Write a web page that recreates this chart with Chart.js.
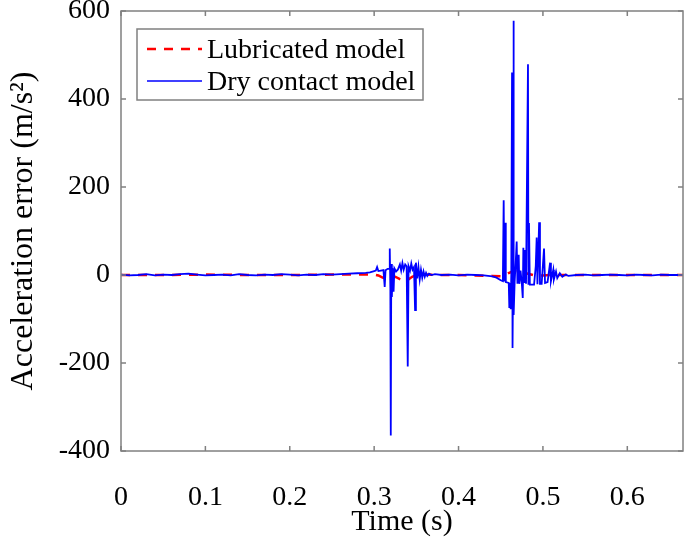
<!DOCTYPE html>
<html><head><meta charset="utf-8">
<script src="https://cdn.jsdelivr.net/npm/chart.js@4/dist/chart.umd.min.js"></script>
<style>html,body{margin:0;padding:0;background:#fff;}#wrap{width:685px;height:540px;position:relative;}</style>
</head><body><div id="wrap"><canvas id="c" width="685" height="540"></canvas></div>
<script>
// ---- data ----
const xTicks = [0, 0.1, 0.2, 0.3, 0.4, 0.5, 0.6];
const yTicks = [-400, -200, 0, 200, 400, 600];
const seriesNames = ['Lubricated model', 'Dry contact model'];
const xTitle = 'Time (s)';
const yTitle = 'Acceleration error (m/s\u00B2)';

const lubTime  = [0, 0.05, 0.1, 0.15, 0.2, 0.25, 0.28, 0.3, 0.305, 0.31, 0.315, 0.32, 0.325, 0.33, 0.335, 0.34, 0.345, 0.35, 0.36, 0.38, 0.4, 0.42, 0.44, 0.45, 0.455, 0.46, 0.465, 0.47, 0.48, 0.49, 0.5, 0.51, 0.53, 0.56, 0.6, 0.63, 0.666];
const lubAccel = [0, 0, 1, 0, 0, 1, 1, 1, -1, -6, -9, -7, -4, -9, -13, -11, -4, 0, 1, 0, 0, -1, -2, -3, 0, 5, 9, 8, 4, -1, -1, 0, 0, 0, 0, 0, 0];

const dryTime = [0, 0.01, 0.02, 0.03, 0.04, 0.05, 0.06, 0.07, 0.08, 0.09, 0.10, 0.11, 0.12, 0.13, 0.14, 0.15, 0.16, 0.17, 0.18, 0.19, 0.20, 0.21, 0.22, 0.23, 0.24, 0.25, 0.26, 0.27, 0.28,
  0.29, 0.295, 0.300, 0.302, 0.3035, 0.305, 0.308, 0.311, 0.3125, 0.3135, 0.316, 0.3178, 0.3185, 0.3192, 0.3197, 0.3203, 0.321, 0.3218, 0.323, 0.324, 0.326, 0.328,
  0.3305, 0.332, 0.3335, 0.335, 0.3368, 0.3385, 0.3398, 0.3408, 0.3425, 0.344, 0.3455, 0.3472, 0.3485, 0.3495, 0.351, 0.3525, 0.354, 0.3555, 0.357, 0.3585, 0.360,
  0.3615, 0.363, 0.365, 0.368, 0.372, 0.38, 0.39, 0.40, 0.41, 0.42, 0.43, 0.44, 0.445, 0.45, 0.4525, 0.4535, 0.4542, 0.4552, 0.456, 0.4595, 0.4602, 0.461, 0.4618,
  0.4625, 0.4634, 0.4638, 0.4642, 0.4646, 0.4649, 0.4653, 0.4657, 0.4665, 0.4678, 0.4689, 0.4698, 0.4713, 0.472, 0.4735, 0.475, 0.4761, 0.4768, 0.4778, 0.4788,
  0.480, 0.4823, 0.4828, 0.4835, 0.4845, 0.487, 0.4895, 0.4915, 0.4926, 0.4935, 0.4955, 0.4965, 0.4985, 0.5013, 0.5025, 0.5055, 0.5085, 0.5095, 0.5123, 0.513,
  0.5155, 0.517, 0.52, 0.523, 0.527, 0.53, 0.54, 0.55, 0.56, 0.57, 0.58, 0.59, 0.60, 0.61, 0.62, 0.63, 0.64, 0.65, 0.666];
const dryAccel = [1, -1, 0, 2, -1, 1, 0, 2, 3, 1, -1, 0, 1, -1, 2, 0, -1, 1, 0, 2, 1, -1, 1, 0, 2, 1, 2, 3, 4,
  5, 6, 9, 10, 18, 9, 10, 11, -27, 11, 14, 14, 60, -30, -365, 25, -50, 15, -38, 15, 8, 12,
  24, 10, 27, 12, 24, 20, -208, 20, 10, 26, 12, 18, -80, 28, -8, 18, -10, 12, -6, 8, -4,
  5, -2, 3, 0, 2, 0, 1, -1, 1, 0, -1, -3, -6, -12, -14, 170, -15, 119, -16, -18, -75, -18, -78,
  0, 460, -20, -166, -10, 578, -20, -91, -15, 30, 76, -20, 46, -20, 10, -20, -52, 62, -18, 57,
  -20, 479, -20, 118, -22, -22, -22, 20, 85, -21, 120, -20, -20, 60, -18, -16, 28, -14, 12, -10,
  8, -7, 4, -4, 1, -2, 0, 1, -1, 0, 1, 0, -1, 1, 0, -1, 1, 0, 0];

// ---- drawing ----
const FONT = '"Liberation Serif", "Times New Roman", serif';
const toPts = (t, v) => t.map((x, i) => ({x: x, y: v[i]}));

const framePlugin = {
  id: 'frameAndLegend',
  afterDatasetsDraw(chart) {
    const {ctx, chartArea: a, scales: {x, y}} = chart;
    ctx.save();
    ctx.strokeStyle = '#808080';
    ctx.lineWidth = 1.5;
    ctx.setLineDash([]);
    ctx.strokeRect(a.left, a.top, a.right - a.left, a.bottom - a.top);
    ctx.beginPath();
    xTicks.forEach(v => {
      const px = x.getPixelForValue(v);
      ctx.moveTo(px, a.bottom); ctx.lineTo(px, a.bottom - 5);
      ctx.moveTo(px, a.top); ctx.lineTo(px, a.top + 5);
    });
    yTicks.forEach(v => {
      const py = y.getPixelForValue(v);
      ctx.moveTo(a.left, py); ctx.lineTo(a.left + 5, py);
      ctx.moveTo(a.right, py); ctx.lineTo(a.right - 5, py);
    });
    ctx.stroke();

    // legend box
    const lx = a.left + 16, ly = a.top + 18, lw = 286, lh = 71;
    ctx.fillStyle = '#ffffff';
    ctx.fillRect(lx, ly, lw, lh);
    ctx.strokeStyle = '#808080';
    ctx.lineWidth = 1.5;
    ctx.strokeRect(lx, ly, lw, lh);
    const ds = chart.data.datasets;
    const rows = [ds[1], ds[0]];
    rows.forEach((d, i) => {
      const cy = ly + 20 + i * 32;
      ctx.beginPath();
      ctx.strokeStyle = d.borderColor;
      ctx.lineWidth = i === 0 ? 2.5 : 1.5;
      ctx.setLineDash(d.borderDash || []);
      ctx.moveTo(lx + 10, cy); ctx.lineTo(lx + 65, cy);
      ctx.stroke();
      ctx.setLineDash([]);
      ctx.fillStyle = '#000';
      ctx.font = '28px ' + FONT;
      ctx.textBaseline = 'alphabetic';
      ctx.textAlign = 'left';
      ctx.fillText(d.label, lx + 70, cy + 9);
    });
    ctx.restore();
  }
};

new Chart(document.getElementById('c'), {
  type: 'line',
  data: {
    datasets: [
      {label: seriesNames[1], data: toPts(dryTime, dryAccel), borderColor: '#0000ff', borderWidth: 1.8, pointRadius: 0, fill: false, tension: 0},
      {label: seriesNames[0], data: toPts(lubTime, lubAccel), borderColor: '#ff0000', borderWidth: 2.5, borderDash: [9, 8], pointRadius: 0, fill: false, tension: 0}
    ]
  },
  options: {
    responsive: false,
    animation: false,
    devicePixelRatio: 1,
    layout: {padding: {top: 11, right: 2, left: 0, bottom: 0}},
    plugins: {legend: {display: false}, tooltip: {enabled: false}},
    scales: {
      x: {
        type: 'linear', min: 0, max: 0.666,
        grid: {display: false, drawTicks: false},
        border: {display: false},
        afterBuildTicks: s => { s.ticks = xTicks.map(v => ({value: v})); },
        afterFit: s => { s.height = 89; s.paddingLeft = 0; s.paddingRight = 0; },
        ticks: {color: '#000', padding: 30, maxRotation: 0, autoSkip: false, font: {family: FONT, size: 28}, callback: v => String(v)},
        title: {display: true, text: xTitle, color: '#000', padding: {top: 0, bottom: 0}, font: {family: FONT, size: 30}}
      },
      y: {
        type: 'linear', min: -400, max: 600,
        grid: {display: false, drawTicks: false},
        border: {display: false},
        afterBuildTicks: s => { s.ticks = yTicks.map(v => ({value: v})); },
        afterFit: s => { s.width = 121; s.paddingTop = 0; s.paddingBottom = 0; },
        ticks: {color: '#000', padding: 11, autoSkip: false, font: {family: FONT, size: 28}, callback: v => String(v)},
        title: {display: true, text: yTitle, color: '#000', padding: {top: 4, bottom: 0}, font: {family: FONT, size: 32}}
      }
    }
  },
  plugins: [framePlugin]
});
</script>
</body></html>
